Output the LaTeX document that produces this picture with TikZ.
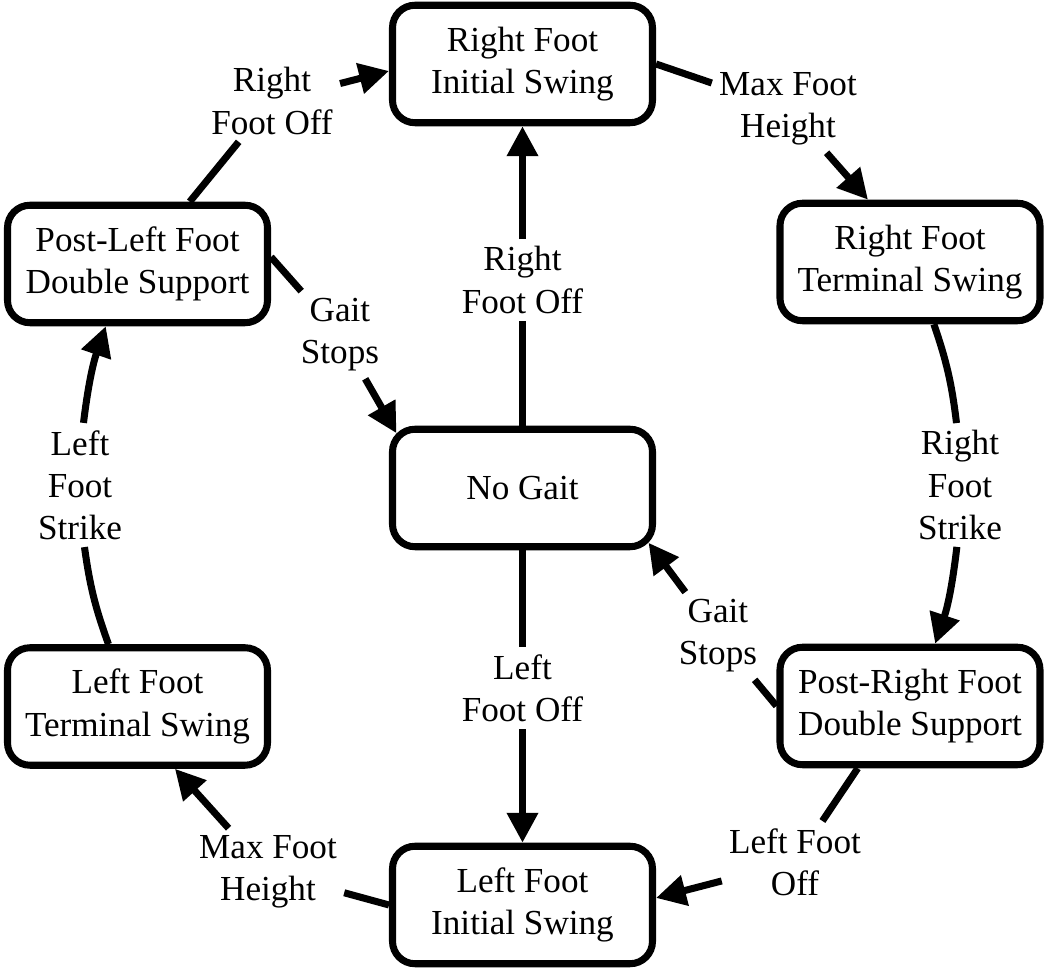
\documentclass[tikz,border=0pt]{standalone}
\usepackage{fontspec}
\setmainfont{Liberation Serif}
\usetikzlibrary{arrows.meta,calc}

\begin{document}
\begin{tikzpicture}[
    state/.style={rectangle, draw, rounded corners=0.45cm, line width=4pt, minimum width=5.2cm, minimum height=2.35cm, align=center, font=\fontsize{20}{24}\selectfont},
    trans/.style={align=center, inner sep=4pt, font=\fontsize{20}{24}\selectfont},
    link/.style={line width=4pt},
    >={Triangle[length=17pt,width=17pt]}
]
    \useasboundingbox (0,0) rectangle (21,19.4);

    % Gait states
    \node[state] (rfis) at (10.45,18.12) {Right Foot\\Initial Swing};
    \node[state] (rfts) at (18.2,14.16) {Right Foot\\Terminal Swing};
    \node[state] (prds) at (18.2,5.28) {Post-Right Foot\\Double Support};
    \node[state] (lfis) at (10.45,1.3) {Left Foot\\Initial Swing};
    \node[state] (lfts) at (2.75,5.27) {Left Foot\\Terminal Swing};
    \node[state] (plds) at (2.75,14.12) {Post-Left Foot\\Double Support};
    \node[state] (nogait) at (10.45,9.64) {No Gait};

    % Transition labels
    \node[trans] (rfo1) at (5.44,17.38) {Right\\Foot Off};
    \node[trans] (mfh1) at (15.76,17.22) {Max Foot\\Height};
    \node[trans] (rfs) at (19.2,9.7) {Right\\Foot\\Strike};
    \node[trans] (lfo1) at (15.9,2.16) {Left Foot\\Off};
    \node[trans] (mfh2) at (5.36,1.96) {Max Foot\\Height};
    \node[trans] (lfs) at (1.6,9.7) {Left\\Foot\\Strike};
    \node[trans] (gs1) at (6.8,12.7) {Gait\\Stops};
    \node[trans] (gs2) at (14.36,6.68) {Gait\\Stops};
    \node[trans] (rfo2) at (10.45,13.8) {Right\\Foot Off};
    \node[trans] (lfo2) at (10.45,5.64) {Left\\Foot Off};

    % Gait cycle
    \draw[link] (plds.50) -- (rfo1);
    \draw[link,->] (rfo1) -- (rfis.183);
    \draw[link] (rfis.east) -- (mfh1);
    \draw[link,->] (mfh1) -- (rfts.124);
    \draw[link] (rfts.-69) to[bend left=6] (rfs);
    \draw[link,->] (rfs) to[bend left=6] (prds.68);
    \draw[link] (prds.230) -- (lfo1);
    \draw[link,->] (lfo1) -- (lfis.3);
    \draw[link] (lfis.west) -- (mfh2);
    \draw[link,->] (mfh2) -- (lfts.-59);
    \draw[link] (lfts.115) to[bend left=6] (lfs);
    \draw[link,->] (lfs) to[bend left=6] (plds.243);

    % Stopping and starting
    \draw[link] (plds.3) -- (gs1);
    \draw[link,->] (gs1) -- ([shift={(0.15,-0.15)}]nogait.north west);
    \draw[link] (prds.west) -- (gs2);
    \draw[link,->] (gs2) -- ([shift={(-0.15,0.15)}]nogait.south east);
    \draw[link] (nogait.north) -- (rfo2);
    \draw[link,->] (rfo2) -- (rfis.south);
    \draw[link] (nogait.south) -- (lfo2);
    \draw[link,->] (lfo2) -- (lfis.north);
\end{tikzpicture}
\end{document}
